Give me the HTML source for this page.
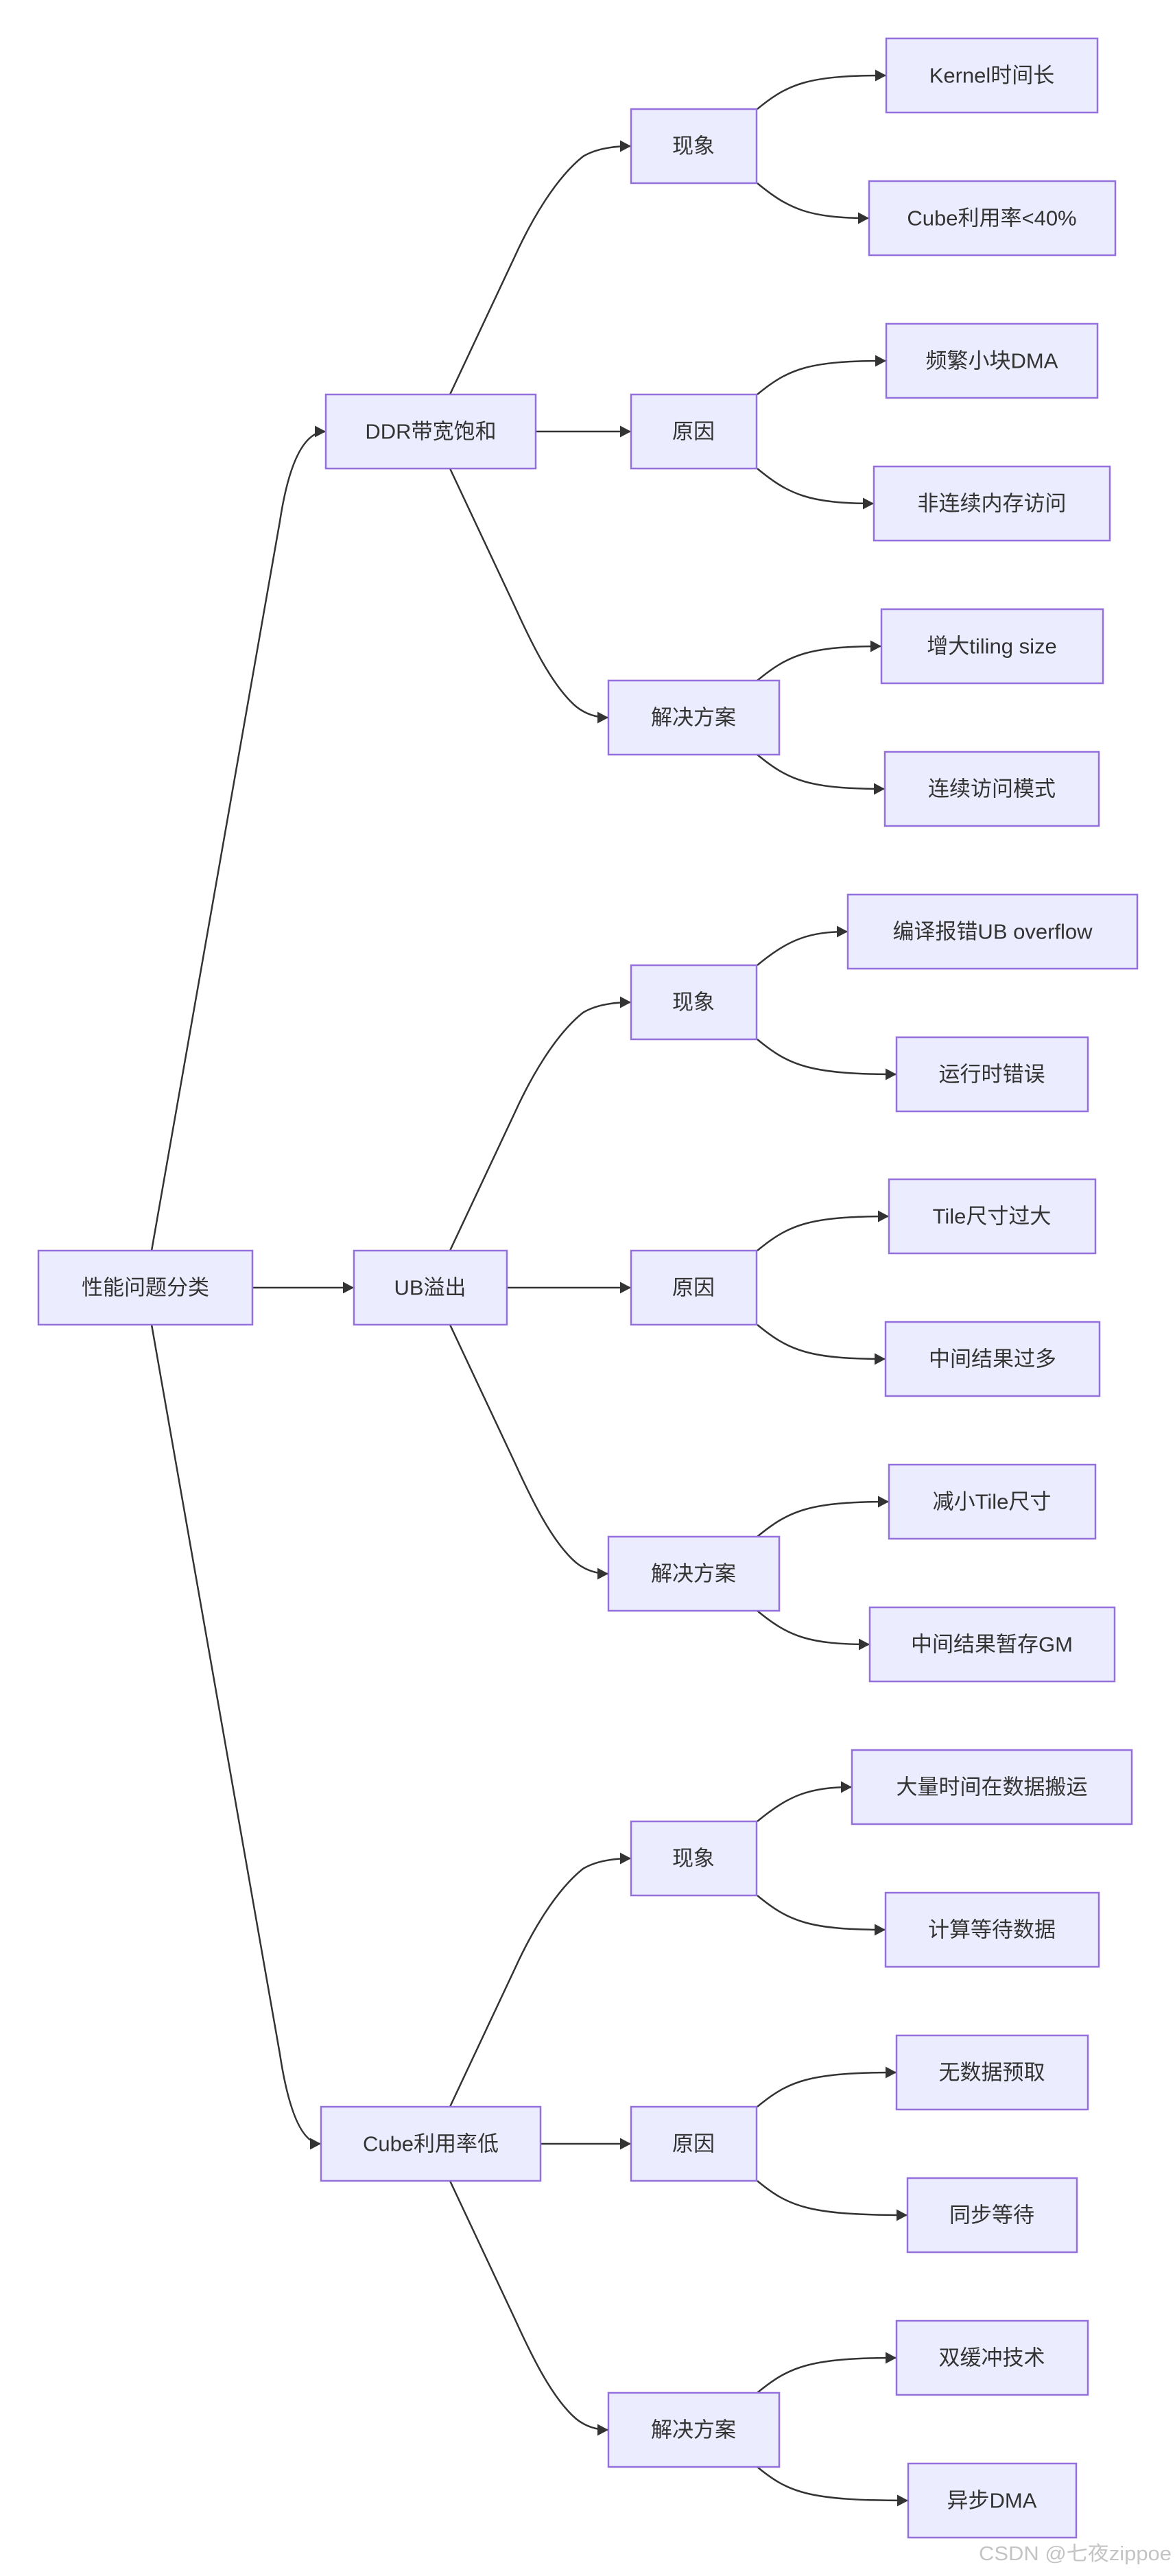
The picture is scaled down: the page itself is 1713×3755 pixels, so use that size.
<!DOCTYPE html>
<html><head><meta charset="utf-8"><style>
html,body{margin:0;padding:0;background:#fff;}
svg{display:block}
.n{fill:#ECECFF;stroke:#9370DB;stroke-width:2.5}
.e{fill:none;stroke:#333;stroke-width:2.5}
text{font-family:"Liberation Sans","Noto Sans CJK SC",sans-serif;font-size:31px;fill:#333;text-anchor:middle;dominant-baseline:central}
</style></head><body>
<svg width="1713" height="3755" viewBox="0 0 1713 3755" xmlns="http://www.w3.org/2000/svg">
<defs><marker id="a" markerWidth="17" markerHeight="17" refX="16" refY="8.5" orient="auto" markerUnits="userSpaceOnUse"><path d="M0,0 L16,8.5 L0,17 z" fill="#333"/></marker></defs>
<g class="e" marker-end="url(#a)">
<path class="e" d="M221,1823 L408,760 Q428,629 475,629"/>
<path class="e" d="M368,1877 L516,1877"/>
<path class="e" d="M221,1931 L408,2994 Q428,3125 468,3125"/>
<path class="e" d="M656,575 L750,375 C775,320 810,260 850,228 Q875,213 920,213"/>
<path class="e" d="M781,629 L920,629"/>
<path class="e" d="M656,683 L750,883 C775,938 805,1000 840,1030 Q860,1046 887,1046"/>
<path class="e" d="M656,1823 L750,1623 C775,1568 810,1508 850,1476 Q875,1461 920,1461"/>
<path class="e" d="M739,1877 L920,1877"/>
<path class="e" d="M656,1931 L750,2131 C775,2186 805,2248 840,2278 Q860,2294 887,2294"/>
<path class="e" d="M656,3071 L750,2871 C775,2816 810,2756 850,2724 Q875,2709 920,2709"/>
<path class="e" d="M788,3125 L920,3125"/>
<path class="e" d="M656,3179 L750,3379 C775,3434 805,3496 840,3526 Q860,3542 887,3542"/>
<path class="e" d="M1104,159 C1150,121 1180,110 1292,110"/>
<path class="e" d="M1104,267 C1150,305 1180,318 1267,318"/>
<path class="e" d="M1104,575 C1150,537 1180,526 1292,526"/>
<path class="e" d="M1104,683 C1150,721 1180,734 1274,734"/>
<path class="e" d="M1104,992 C1150,954 1180,942 1285,942"/>
<path class="e" d="M1104,1100 C1150,1138 1180,1150 1290,1150"/>
<path class="e" d="M1104,1407 C1150,1369 1180,1358 1236,1358"/>
<path class="e" d="M1104,1515 C1150,1553 1180,1566 1307,1566"/>
<path class="e" d="M1104,1823 C1150,1785 1180,1773 1296,1773"/>
<path class="e" d="M1104,1931 C1150,1969 1180,1981 1291,1981"/>
<path class="e" d="M1104,2240 C1150,2202 1180,2189 1296,2189"/>
<path class="e" d="M1104,2348 C1150,2386 1180,2397 1268,2397"/>
<path class="e" d="M1104,2655 C1150,2617 1180,2605 1242,2605"/>
<path class="e" d="M1104,2763 C1150,2801 1180,2813 1291,2813"/>
<path class="e" d="M1104,3071 C1150,3033 1180,3021 1307,3021"/>
<path class="e" d="M1104,3179 C1150,3217 1180,3229 1323,3229"/>
<path class="e" d="M1104,3488 C1150,3450 1180,3437 1307,3437"/>
<path class="e" d="M1104,3596 C1150,3634 1180,3645 1324,3645"/>
</g>
<rect class="n" x="56" y="1823" width="312" height="108"/><text x="212" y="1877">性能问题分类</text>
<rect class="n" x="475" y="575" width="306" height="108"/><text x="628" y="629">DDR带宽饱和</text>
<rect class="n" x="516" y="1823" width="223" height="108"/><text x="627" y="1877">UB溢出</text>
<rect class="n" x="468" y="3071" width="320" height="108"/><text x="628" y="3125">Cube利用率低</text>
<rect class="n" x="920" y="159" width="183" height="108"/><text x="1011" y="213">现象</text>
<rect class="n" x="920" y="575" width="183" height="108"/><text x="1011" y="629">原因</text>
<rect class="n" x="887" y="992" width="249" height="108"/><text x="1011" y="1046">解决方案</text>
<rect class="n" x="920" y="1407" width="183" height="108"/><text x="1011" y="1461">现象</text>
<rect class="n" x="920" y="1823" width="183" height="108"/><text x="1011" y="1877">原因</text>
<rect class="n" x="887" y="2240" width="249" height="108"/><text x="1011" y="2294">解决方案</text>
<rect class="n" x="920" y="2655" width="183" height="108"/><text x="1011" y="2709">现象</text>
<rect class="n" x="920" y="3071" width="183" height="108"/><text x="1011" y="3125">原因</text>
<rect class="n" x="887" y="3488" width="249" height="108"/><text x="1011" y="3542">解决方案</text>
<rect class="n" x="1292" y="56" width="308" height="108"/><text x="1446" y="110">Kernel时间长</text>
<rect class="n" x="1267" y="264" width="359" height="108"/><text x="1446" y="318">Cube利用率&lt;40%</text>
<rect class="n" x="1292" y="472" width="308" height="108"/><text x="1446" y="526">频繁小块DMA</text>
<rect class="n" x="1274" y="680" width="344" height="108"/><text x="1446" y="734">非连续内存访问</text>
<rect class="n" x="1285" y="888" width="323" height="108"/><text x="1446" y="942">增大tiling size</text>
<rect class="n" x="1290" y="1096" width="312" height="108"/><text x="1446" y="1150">连续访问模式</text>
<rect class="n" x="1236" y="1304" width="422" height="108"/><text x="1447" y="1358">编译报错UB overflow</text>
<rect class="n" x="1307" y="1512" width="279" height="108"/><text x="1446" y="1566">运行时错误</text>
<rect class="n" x="1296" y="1719" width="301" height="108"/><text x="1446" y="1773">Tile尺寸过大</text>
<rect class="n" x="1291" y="1927" width="312" height="108"/><text x="1447" y="1981">中间结果过多</text>
<rect class="n" x="1296" y="2135" width="301" height="108"/><text x="1446" y="2189">减小Tile尺寸</text>
<rect class="n" x="1268" y="2343" width="357" height="108"/><text x="1446" y="2397">中间结果暂存GM</text>
<rect class="n" x="1242" y="2551" width="408" height="108"/><text x="1446" y="2605">大量时间在数据搬运</text>
<rect class="n" x="1291" y="2759" width="311" height="108"/><text x="1446" y="2813">计算等待数据</text>
<rect class="n" x="1307" y="2967" width="279" height="108"/><text x="1446" y="3021">无数据预取</text>
<rect class="n" x="1323" y="3175" width="247" height="108"/><text x="1446" y="3229">同步等待</text>
<rect class="n" x="1307" y="3383" width="279" height="108"/><text x="1446" y="3437">双缓冲技术</text>
<rect class="n" x="1324" y="3591" width="245" height="108"/><text x="1446" y="3645">异步DMA</text>
<text x="1427" y="3723" style="text-anchor:start;font-size:29px;fill:#c4c4c4" textLength="281" lengthAdjust="spacingAndGlyphs">CSDN @七夜zippoe</text>
</svg>
</body></html>
